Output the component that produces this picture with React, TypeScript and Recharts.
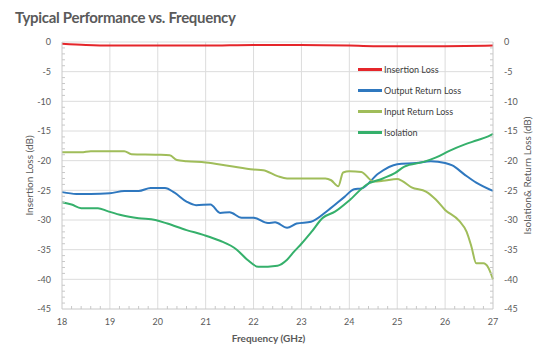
import { Label, Line, LineChart, ReferenceLine, XAxis, YAxis } from 'recharts'

// values (freq in GHz, level in dB)
const insertionFreq = [18, 18.5, 19, 20, 21, 22, 23, 24, 24.5, 25, 26, 27]
const insertionLoss = [-0.3, -0.5, -0.6, -0.6, -0.6, -0.5, -0.5, -0.6, -0.7, -0.7, -0.7, -0.6]

const outputFreq = [18, 18.3, 18.6, 19, 19.3, 19.6, 19.85, 20.15, 20.35, 20.6, 20.8, 21.1, 21.3, 21.5, 21.75, 22, 22.3, 22.45, 22.7, 22.9, 23.2, 23.55, 23.9, 24.1, 24.25, 24.6, 25, 25.4, 25.7, 26, 26.15, 26.4, 26.65, 27]
const outputReturnLoss = [-25.3, -25.6, -25.6, -25.5, -25.1, -25.1, -24.6, -24.6, -25.4, -26.9, -27.5, -27.4, -28.8, -28.7, -29.6, -29.6, -30.5, -30.4, -31.3, -30.6, -30.3, -28.4, -26.1, -24.8, -24.7, -22.2, -20.6, -20.4, -20.1, -20.4, -20.8, -22.3, -23.7, -25.1]

const inputFreq = [18, 18.4, 18.6, 19.3, 19.45, 20, 20.25, 20.4, 20.6, 21, 21.5, 22, 22.2, 22.5, 22.7, 23.5, 23.62, 23.77, 23.87, 24, 24.25, 24.5, 24.7, 25, 25.1, 25.3, 25.6, 25.8, 26, 26.3, 26.45, 26.55, 26.65, 26.8, 26.9, 27]
const inputReturnLoss = [-18.6, -18.6, -18.4, -18.4, -18.9, -19, -19.1, -19.9, -20.1, -20.3, -20.9, -21.5, -21.6, -22.6, -23, -23, -23.3, -24.3, -22, -21.8, -21.9, -23.5, -23.4, -23.1, -23.4, -24.5, -25.2, -26.5, -28.3, -30.2, -32, -34.5, -37.3, -37.3, -38, -40]

const isolationFreq = [18, 18.2, 18.4, 18.75, 18.95, 19.25, 19.6, 19.95, 20.2, 20.6, 20.95, 21.3, 21.65, 21.87, 22.1, 22.5, 22.7, 22.85, 23, 23.2, 23.45, 23.7, 24, 24.35, 24.7, 24.95, 25.15, 25.55, 25.8, 26.1, 26.4, 26.65, 26.9, 27]
const isolation = [-27, -27.4, -28, -28, -28.5, -29.2, -29.7, -30, -30.6, -31.7, -32.5, -33.5, -35, -36.7, -37.9, -37.7, -36.7, -35.3, -34, -32.1, -29.6, -28.6, -26.7, -24.1, -23, -22.1, -21, -20.2, -19.5, -18.3, -17.3, -16.6, -15.9, -15.5]

const xMajor = [18, 19, 20, 21, 22, 23, 24, 25, 26, 27]
const yMajor = [0, -5, -10, -15, -20, -25, -30, -35, -40, -45]
const xAll = Array.from({ length: 46 }, (_, i) => Math.round((18 + i * 0.2) * 10) / 10)
const yAll = Array.from({ length: 46 }, (_, i) => -i)

const zip = (f: number[], v: number[]) => f.map((freq, i) => ({ freq, value: v[i] }))

const series = [
  { name: 'Insertion Loss', color: '#e5262b', data: zip(insertionFreq, insertionLoss), axis: 'left' },
  { name: 'Output Return Loss', color: '#2f78bf', data: zip(outputFreq, outputReturnLoss), axis: 'right' },
  { name: 'Input Return Loss', color: '#a0bd5a', data: zip(inputFreq, inputReturnLoss), axis: 'right' },
  { name: 'Isolation', color: '#35b06b', data: zip(isolationFreq, isolation), axis: 'right' },
]

const FONT = 'Lato, "Open Sans", sans-serif'
const AXIS = '#c8c8c8'
const GRID = '#dcdcdc'
const TEXT = '#5a5a5a'

function XTick(props: any) {
  const { x, y, payload } = props
  const v = Number(payload.value)
  const major = Math.abs(v - Math.round(v)) < 1e-6
  const base = y - 10
  return (
    <g>
      {!major && <line x1={x} x2={x} y1={base} y2={base - 3} stroke={AXIS} />}
      {major && (
        <text x={x} y={y} dy="0.71em" textAnchor="middle" fontSize={9} fill={TEXT} fontFamily={FONT}>
          {Math.round(v)}
        </text>
      )}
    </g>
  )
}

function YTick(props: any) {
  const { x, y, payload, side } = props
  const v = payload.value
  const major = v % 5 === 0
  const dir = side === 'left' ? 1 : -1
  const base = x + dir * 11
  return (
    <g>
      {!major && <line x1={base} x2={base + dir * 3} y1={y} y2={y} stroke={AXIS} />}
      {major && (
        <text x={x} y={y} dy="0.355em" textAnchor={side === 'left' ? 'end' : 'start'} fontSize={9} fill={TEXT} fontFamily={FONT}>
          {v}
        </text>
      )}
    </g>
  )
}

// rotated axis title, placed inside the axis box
const vertTitle = (text: string, inset: number) => (props: any) => {
  const vb = props.viewBox
  const cx = vb.x + inset
  const cy = vb.y + vb.height / 2
  return (
    <text
      x={cx}
      y={cy}
      transform={`rotate(-90 ${cx} ${cy})`}
      textAnchor="middle"
      dominantBaseline="central"
      fontSize={10}
      fill={TEXT}
      fontFamily={FONT}
    >
      {text}
    </text>
  )
}

export default function App() {
  return (
    <div style={{ position: 'absolute', left: 0, top: 0, width: 558, height: 359, background: '#fff' }}>
      <div
        style={{
          position: 'absolute',
          left: 15,
          top: 8,
          fontFamily: FONT,
          fontWeight: 700,
          fontSize: 15,
          color: '#5a5a5a',
          letterSpacing: -0.3,
        }}
      >
        Typical Performance vs. Frequency
      </div>
      <LineChart width={558} height={359} margin={{ top: 42, right: 20, bottom: 10, left: 22 }}>
        <XAxis
          dataKey="freq"
          type="number"
          domain={[18, 27]}
          ticks={xAll}
          interval={0}
          tickSize={0}
          tickMargin={10}
          height={40}
          stroke={AXIS}
          tickLine={false}
          tick={<XTick />}
        >
          <Label
            value="Frequency (GHz)"
            position="insideBottom"
            offset={7}
            dx={-9}
            style={{ fontSize: 10, fontWeight: 700, fill: TEXT, fontFamily: FONT }}
          />
        </XAxis>
        <YAxis
          yAxisId="left"
          domain={[-45, 0]}
          ticks={yAll}
          interval={0}
          width={40}
          tickSize={0}
          tickMargin={11}
          stroke={AXIS}
          tickLine={false}
          tick={<YTick side="left" />}
        >
          <Label content={vertTitle('Insertion Loss (dB)', 7)} />
        </YAxis>
        <YAxis
          yAxisId="right"
          orientation="right"
          domain={[-45, 0]}
          ticks={yAll}
          interval={0}
          width={45}
          tickSize={0}
          tickMargin={11}
          stroke={AXIS}
          tickLine={false}
          tick={<YTick side="right" />}
        >
          <Label content={vertTitle('Isolation& Return Loss (dB)', 34)} />
        </YAxis>
        {yMajor.slice(0, -1).map((v) => (
          <ReferenceLine key={'h' + v} yAxisId="left" y={v} stroke={GRID} />
        ))}
        {xMajor.slice(1, -1).map((v) => (
          <ReferenceLine key={'v' + v} yAxisId="left" x={v} stroke={GRID} />
        ))}
        {series.map((s) => (
          <Line
            key={s.name}
            yAxisId={s.axis}
            data={s.data}
            dataKey="value"
            type="monotone"
            stroke={s.color}
            strokeWidth={2}
            dot={false}
            isAnimationActive={false}
          />
        ))}
      </LineChart>
      <div style={{ position: 'absolute', left: 358, top: 59, fontFamily: FONT, fontSize: 9, color: '#404040' }}>
        {series.map((s) => (
          <div key={s.name} style={{ display: 'flex', alignItems: 'center', height: 21 }}>
            <span style={{ display: 'inline-block', width: 24, height: 2.5, background: s.color, marginRight: 2 }} />
            {s.name}
          </div>
        ))}
      </div>
    </div>
  )
}
